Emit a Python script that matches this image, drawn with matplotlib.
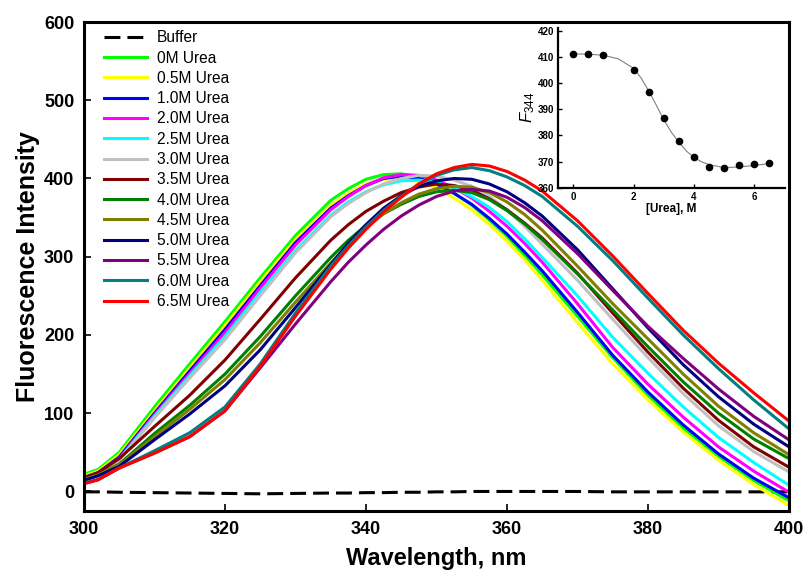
import matplotlib
matplotlib.use('Agg')
import matplotlib.pyplot as plt

plt.rcParams['font.family'] = ['Liberation Sans', 'DejaVu Sans']
plt.rcParams['mathtext.fontset'] = 'custom'
plt.rcParams['mathtext.rm'] = 'Liberation Sans'
plt.rcParams['mathtext.it'] = 'Liberation Sans:italic'

# emission spectra
wavelength = [300, 302, 305, 310, 315, 320, 325, 330,
              335, 337.5, 340, 342.5, 345, 347.5, 350, 352.5, 355, 357.5,
              360, 362.5, 365,
              370, 375, 380, 385, 390, 395, 400]

buffer = [-0.5, -0.5, -1, -1.5, -2, -2.5, -3, -2.5,
          -2, -2, -1.5, -1.5, -1, -1, -0.5, -0.5, 0, 0, 0, 0, 0,
          0, -0.5, -0.5, -0.5, -0.5, -0.5, -0.5]
urea_00 = [22, 28, 50, 108, 163, 217, 273, 327,
           372, 387, 399, 405, 406, 402, 394, 381, 366, 347, 326, 302, 277,
           224, 171, 123, 81, 45, 14, -12]
urea_05 = [20, 26, 47, 103, 158, 212, 268, 322,
           366, 381, 393, 399, 400, 396, 388, 375, 360, 341, 320, 296, 270,
           216, 163, 117, 76, 40, 9, -18]
urea_10 = [18, 24, 44, 100, 154, 207, 263, 318,
           362, 378, 391, 400, 403, 400, 393, 381, 367, 349, 329, 306, 282,
           229, 174, 127, 85, 48, 17, -8]
urea_20 = [17, 23, 42, 98, 151, 203, 260, 315,
           360, 377, 391, 401, 405, 404, 398, 388, 375, 358, 339, 317, 293,
           240, 184, 137, 95, 57, 26, -1]
urea_25 = [16, 22, 41, 96, 148, 198, 254, 308,
           353, 370, 383, 392, 397, 398, 395, 388, 377, 363, 345, 323, 299,
           250, 197, 151, 108, 69, 37, 8]
urea_30 = [16, 22, 40, 94, 145, 194, 250, 305,
           351, 368, 382, 393, 400, 404, 403, 398, 390, 377, 360, 339, 316,
           270, 220, 171, 125, 84, 51, 25]
urea_35 = [17, 24, 42, 83, 123, 168, 220, 273,
           321, 341, 358, 371, 382, 389, 393, 391, 385, 374, 360, 343, 324,
           279, 228, 178, 132, 91, 57, 31]
urea_40 = [15, 21, 35, 74, 110, 150, 198, 250,
           299, 321, 340, 355, 367, 377, 383, 385, 382, 373, 359, 342, 322,
           278, 232, 185, 140, 100, 67, 42]
urea_45 = [15, 21, 34, 70, 105, 143, 190, 242,
           292, 316, 337, 355, 369, 380, 387, 390, 389, 382, 370, 354, 334,
           288, 240, 195, 150, 109, 75, 47]
urea_50 = [14, 20, 32, 66, 99, 135, 181, 235,
           290, 317, 341, 362, 378, 390, 397, 400, 399, 393, 383, 369, 352,
           309, 259, 209, 162, 121, 86, 57]
urea_55 = [10, 15, 30, 49, 70, 103, 158, 214,
           268, 293, 315, 335, 352, 366, 377, 384, 386, 384, 376, 363, 346,
           304, 257, 211, 170, 131, 96, 66]
urea_60 = [11, 15, 30, 52, 75, 108, 163, 228,
           288, 314, 338, 359, 377, 393, 404, 411, 414, 410, 402, 391, 377,
           339, 295, 247, 200, 157, 117, 80]
urea_65 = [10, 15, 30, 49, 70, 103, 160, 224,
           284, 311, 335, 357, 376, 393, 406, 414, 418, 416, 409, 398, 384,
           346, 301, 253, 206, 164, 126, 90]

labels = ['0M Urea', '0.5M Urea', '1.0M Urea', '2.0M Urea', '2.5M Urea',
          '3.0M Urea', '3.5M Urea', '4.0M Urea', '4.5M Urea', '5.0M Urea',
          '5.5M Urea', '6.0M Urea', '6.5M Urea']
colors = ['#00ff00', '#ffff00', '#0000ff', '#ff00ff', '#00ffff', '#c0c0c0',
          '#800000', '#008000', '#808000', '#000080', '#800080', '#008080',
          '#ff0000']
spectra = [urea_00, urea_05, urea_10, urea_20, urea_25, urea_30, urea_35,
           urea_40, urea_45, urea_50, urea_55, urea_60, urea_65]

# inset: F at 344 nm vs urea
urea = [0, 0.5, 1.0, 2.0, 2.5, 3.0, 3.5, 4.0, 4.5, 5.0, 5.5, 6.0, 6.5]
f344 = [411.2, 411.1, 410.6, 405.0, 396.4, 386.5, 377.8, 371.6, 368.1,
        367.7, 368.5, 369.2, 369.6]
fit_x = [0, 0.5, 1.0, 1.5, 2.0, 2.25, 2.5, 2.75, 3.0, 3.25, 3.5, 3.75,
         4.0, 4.25, 4.5, 5.0, 5.5, 6.0, 6.5]
fit_y = [411.1, 411.0, 410.6, 409.2, 405.6, 401.9, 397.0, 391.6, 386.0,
         381.2, 377.4, 374.0, 371.6, 369.9, 368.8, 367.7, 367.9, 368.5, 369.2]

fig = plt.figure(figsize=(8.05, 5.76), dpi=100)
ax = fig.add_axes([0.1043, 0.1128, 0.8758, 0.849])

ax.plot(wavelength, buffer, color='black', lw=2.2, dashes=(5.2, 2.3),
        label='Buffer')
for vals, c, lab in zip(spectra, colors, labels):
    ax.plot(wavelength, vals, color=c, lw=2.2, label=lab)

ax.set_xlim(300, 400)
ax.set_ylim(-25, 600)
ax.set_xticks(range(300, 401, 20))
ax.set_yticks(range(0, 601, 100))
ax.tick_params(direction='in', length=5, width=1.2, labelsize=13, pad=7,
               top=False, right=False)
for lbl in ax.get_xticklabels() + ax.get_yticklabels():
    lbl.set_fontweight('bold')
for sp in ax.spines.values():
    sp.set_linewidth(2.2)
ax.set_xlabel('Wavelength, nm', fontsize=17, fontweight='bold', labelpad=7)
ax.set_ylabel('Fluorescence Intensity', fontsize=18, fontweight='bold',
              labelpad=3)

ax.legend(loc='upper left', bbox_to_anchor=(0.028, 0.983), frameon=False,
          fontsize=11.2, handlelength=2.76, handletextpad=0.64,
          labelspacing=0.34, borderpad=0, borderaxespad=0)

# inset
ins = fig.add_axes([0.6932, 0.6741, 0.2814, 0.2773])
ins.set_facecolor('none')
ins.plot(fit_x, fit_y, color='gray', lw=0.8)
ins.plot(urea, f344, 'o', color='black', ms=4.5)
ins.set_xlim(-0.5, 7)
ins.set_ylim(360, 421)
ins.set_xticks([0, 2, 4, 6])
ins.set_yticks(range(360, 421, 10))
ins.spines['top'].set_visible(False)
ins.spines['right'].set_visible(False)
for sp in ['left', 'bottom']:
    ins.spines[sp].set_linewidth(1.6)
ins.tick_params(direction='in', length=3, width=1, labelsize=7, pad=3)
for lbl in ins.get_xticklabels() + ins.get_yticklabels():
    lbl.set_fontweight('bold')
ins.set_xlabel('[Urea], M', fontsize=8.5, fontweight='bold', labelpad=1)
ins.set_ylabel(r'$F_{\mathrm{344}}$', fontsize=12, labelpad=0)

fig.savefig('out.png', dpi=100)
